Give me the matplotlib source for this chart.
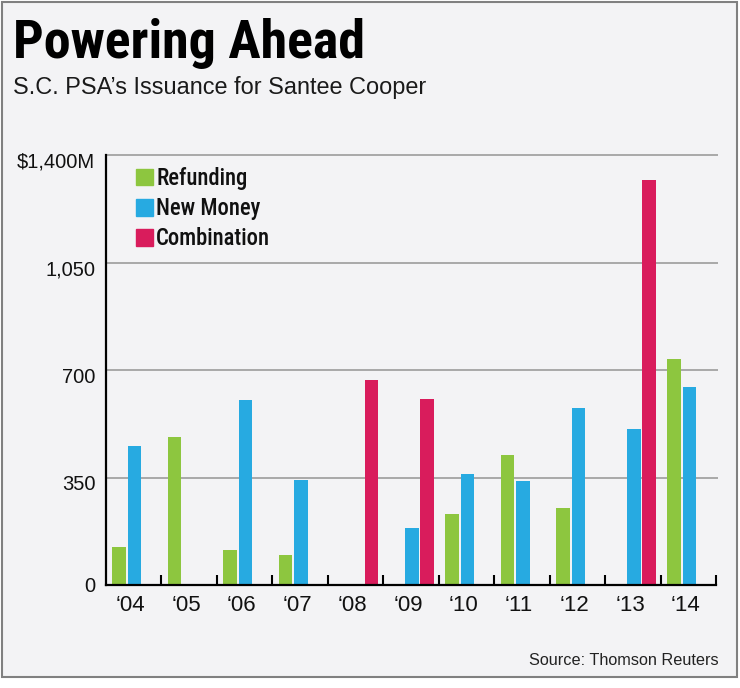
import numpy as np
import matplotlib
matplotlib.use("Agg")
import matplotlib.pyplot as plt
import matplotlib.transforms as mtransforms
from matplotlib import font_manager as fm
from matplotlib.patches import Rectangle, Patch

years = ["\u201804", "\u201805", "\u201806", "\u201807", "\u201808", "\u201809",
         "\u201810", "\u201811", "\u201812", "\u201813", "\u201814"]
refunding = [125, 482, 114, 98, 0, 0, 231, 424, 251, 0, 737]
new_money = [452, 0, 601, 342, 0, 187, 361, 338, 576, 508, 644]
combination = [0, 0, 0, 0, 668, 605, 0, 0, 0, 1318, 0]
yticks = [0, 350, 700, 1050, 1400]
ylabels = ["0", "350", "700", "1,050", "$1,400M"]

green = "#8dc63f"
blue = "#27aae1"
magenta = "#d91c5c"

names = {f.name for f in fm.fontManager.ttflist}
narrow = next((n for n in ["Roboto Condensed", "Archivo Narrow", "PT Sans Narrow",
                           "Liberation Sans Narrow", "Barlow Condensed",
                           "Asap Condensed"] if n in names), "DejaVu Sans")
reg = next((n for n in ["Liberation Sans", "Arimo"] if n in names), "DejaVu Sans")

W, H = 740, 688
fig = plt.figure(figsize=(W / 100, H / 100), dpi=100, facecolor="white")

# panel background + frame
fig.patches.append(Rectangle((2 / W, (H - 677) / H), 735 / W, 675 / H,
                             transform=fig.transFigure, facecolor="#f3f3f5",
                             edgecolor="#808080", lw=1.5, zorder=-5))

ax = fig.add_axes([105.7 / W, (H - 585) / H, (716.2 - 105.7) / W, 430 / H])
ax.set_facecolor("none")

x = np.arange(len(years))
bw = 0.243
ax.bar(x + 0.24, refunding, bw, color=green, lw=0, zorder=3)
ax.bar(x + 0.515, new_money, bw, color=blue, lw=0, zorder=3)
ax.bar(x + 0.787, combination, bw, color=magenta, lw=0, zorder=3)

ax.set_xlim(0, len(years))
ax.set_ylim(0, 1400)

ax.hlines(yticks[1:], 0, len(years) + 0.03, colors="#a3a3a3", lw=1.3,
          zorder=1, clip_on=False)

for s in ["top", "right"]:
    ax.spines[s].set_visible(False)
for s in ["left", "bottom"]:
    ax.spines[s].set_linewidth(1.6)
    ax.spines[s].set_color("black")
    ax.spines[s].set_zorder(4)

# boundary ticks between year groups
ax.set_xticks(np.arange(1, len(years) + 1))
ax.set_xticklabels([])
ax.tick_params(axis="x", which="major", direction="in", length=7.5, width=1.5,
               color="black")
ax.set_xticks(x + 0.45, minor=True)
ax.set_xticklabels(years, minor=True, fontsize=16, family=reg, color="#111111")
ax.tick_params(axis="x", which="minor", length=0, pad=7.5)

ax.set_yticks(yticks)
ax.set_yticklabels(ylabels, fontsize=14.5, family=reg, color="#111111")
ax.tick_params(axis="y", length=0, pad=7.5)
shift = mtransforms.ScaledTranslation(0, -5.5 / 100, fig.dpi_scale_trans)
for t, v in zip(ax.get_yticklabels(), yticks):
    if v != 0:
        t.set_transform(t.get_transform() + shift)

handles = [Patch(color=green, label="Refunding"),
           Patch(color=blue, label="New Money"),
           Patch(color=magenta, label="Combination")]
leg = ax.legend(handles=handles, loc="upper left",
                bbox_to_anchor=(136 / W, 1 - 167 / H),
                bbox_transform=fig.transFigure, frameon=False,
                borderpad=0, borderaxespad=0, handlelength=0.75,
                handleheight=0.75, handletextpad=0.15, labelspacing=0.32,
                prop=fm.FontProperties(family=narrow, weight="medium", size=16))
for lt in leg.get_texts():
    lt.set_color("#111111")

title = fig.text(13 / W, 1 - 58.3 / H, "Powering Ahead", fontsize=39,
                 weight="bold", family=narrow, va="baseline", ha="left",
                 color="black")
sub = fig.text(13 / W, 1 - 94.3 / H, "S.C. PSA\u2019s Issuance for Santee Cooper",
               fontsize=17, family=reg, va="baseline", ha="left", color="#1a1a1a")
fig.text(719 / W, 1 - 665 / H, "Source: Thomson Reuters", fontsize=11.7,
         family=reg, va="baseline", ha="right", color="#222222")

# fit title / subtitle / legend widths to the reference
r = fig.canvas.get_renderer()
for t, target in [(title, 352), (sub, 412)]:
    w = t.get_window_extent(r).width
    t.set_fontsize(t.get_fontsize() * target / w)
w = leg.get_texts()[0].get_window_extent(r).width
f = leg.get_texts()[0].get_fontsize() * 92 / w
for lt in leg.get_texts():
    lt.set_fontsize(f)

fig.savefig("out.png", dpi=100, facecolor="white")
